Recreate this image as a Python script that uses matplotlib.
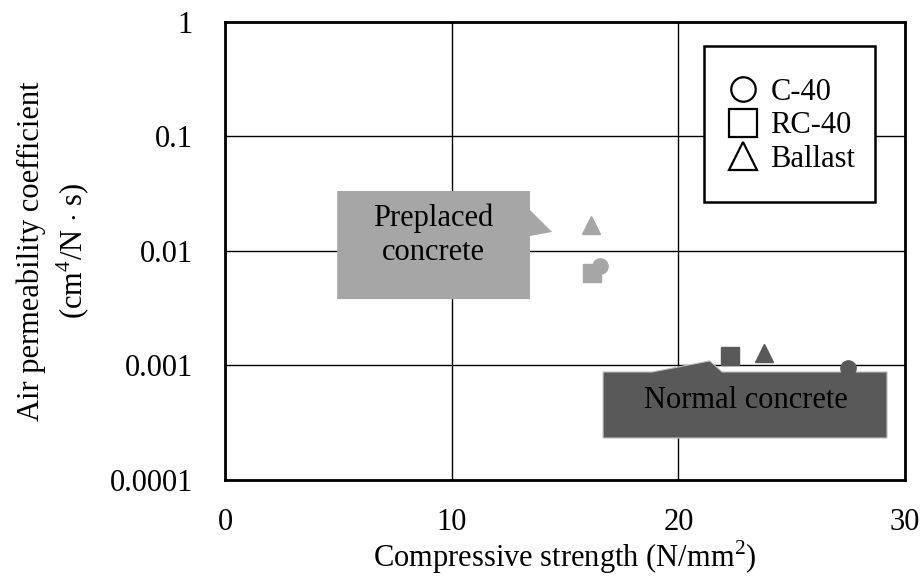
import matplotlib.pyplot as plt
from matplotlib.patches import Polygon, Rectangle
from matplotlib.lines import Line2D

plt.rcParams['font.family'] = ['Liberation Serif', 'Noto Sans CJK JP']
plt.rcParams['mathtext.fontset'] = 'custom'
plt.rcParams['mathtext.rm'] = 'Liberation Serif'

# data: first entry preplaced concrete, second normal concrete
groups = ['Preplaced concrete', 'Normal concrete']
group_colors = ['#a6a6a6', '#595959']
c40_strength = [16.55, 27.5]
c40_perm = [0.0074, 0.00095]
rc40_strength = [16.2, 22.3]
rc40_perm = [0.0064, 0.0012]
ballast_strength = [16.15, 23.8]
ballast_perm = [0.017, 0.00128]

series = [('C-40', 'o', 11, c40_strength, c40_perm),
          ('RC-40', 's', 13, rc40_strength, rc40_perm),
          ('Ballast', '^', 13, ballast_strength, ballast_perm)]

FS = 22

fig = plt.figure(figsize=(9.22, 5.79), dpi=100)
ax = fig.add_axes([0.244, 0.171, 0.7376, 0.791])
ax.set_yscale('log')
ax.set_xlim(0, 30)
ax.set_ylim(0.0001, 1)
ax.set_xticks([0, 10, 20, 30])
ax.set_yticks([0.0001, 0.001, 0.01, 0.1, 1])
ax.set_yticklabels(['0.0001', '0.001', '0.01', '0.1', '1'])
ax.minorticks_off()
ax.tick_params(length=0, labelsize=FS)
ax.tick_params(axis='y', pad=23)
ax.tick_params(axis='x', pad=20)
ax.grid(True, color='black', linewidth=1)
ax.set_axisbelow(True)
for s in ax.spines.values():
    s.set_linewidth(2)

for name, mk, ms, xs, ys in series:
    for i in range(len(groups)):
        ax.plot(xs[i], ys[i], marker=mk, markersize=ms, color=group_colors[i],
                linestyle='none', zorder=5)

# callouts
pre = [(0.165, 0.631), (0.4485, 0.631), (0.4485, 0.5895), (0.481, 0.5415),
       (0.4485, 0.5328), (0.4485, 0.395), (0.165, 0.395)]
ax.add_patch(Polygon(pre, closed=True, transform=ax.transAxes,
                     facecolor=group_colors[0], edgecolor='none', zorder=3))
ax.text(0.306, 0.534, 'Preplaced\nconcrete', transform=ax.transAxes,
        ha='center', va='center', fontsize=FS, linespacing=1.2, zorder=4)

nor = [(0.556, 0.2358), (0.628, 0.2358), (0.713, 0.26), (0.731, 0.2358),
       (0.9735, 0.2358), (0.9735, 0.0917), (0.556, 0.0917)]
ax.add_patch(Polygon(nor, closed=True, transform=ax.transAxes,
                     facecolor=group_colors[1], edgecolor='#bfbfbf',
                     linewidth=0.8, zorder=3))
ax.text(0.766, 0.1725, 'Normal concrete', transform=ax.transAxes,
        ha='center', va='center', fontsize=FS, zorder=4)

# legend
ax.add_patch(Rectangle((0.704, 0.607), 0.252, 0.341, transform=ax.transAxes,
                       facecolor='white', edgecolor='black', linewidth=1.8, zorder=6))
handles = [Line2D([], [], marker=mk, markersize=ms * 1.6, markerfacecolor='white',
                  markeredgecolor='black', markeredgewidth=1.6, linestyle='none')
           for name, mk, ms, xs, ys in series]
leg = ax.legend(handles, [s[0] for s in series], loc='upper left',
                bbox_to_anchor=(0.712, 0.925), frameon=False, fontsize=FS,
                handlelength=0.8, handletextpad=0.5, labelspacing=0.15,
                borderpad=0.2)
leg.set_zorder(7)

ax.set_xlabel('Compressive strength (N/mm$^2$)', fontsize=FS, labelpad=1)
ax.set_ylabel('Air permeability coefficient\n(cm$^4$/N $\\cdot$ s)', fontsize=FS,
              labelpad=13, linespacing=1.3)

fig.savefig('out.png', dpi=100)
